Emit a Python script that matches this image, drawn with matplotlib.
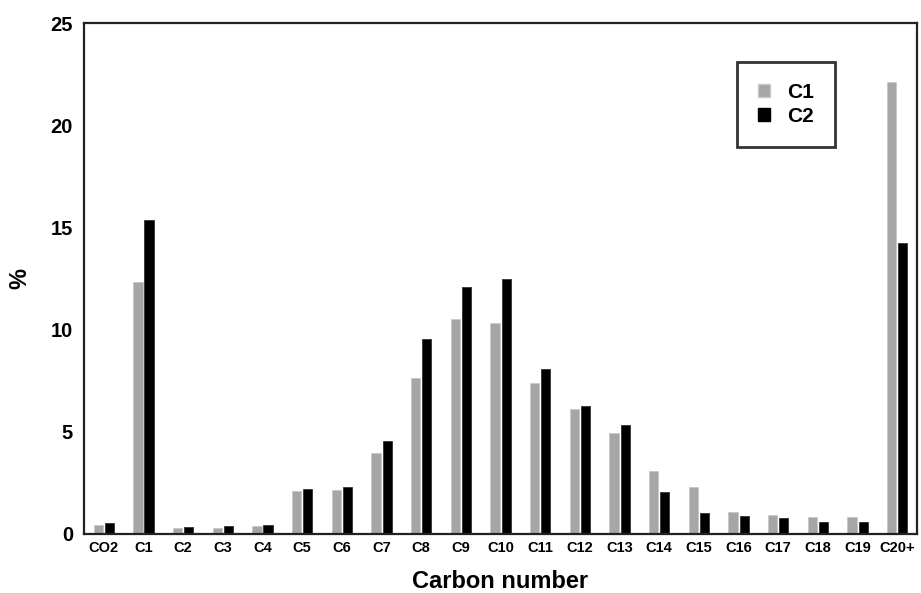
import numpy as np
import matplotlib.pyplot as plt
from matplotlib.patches import Patch

plt.rcParams["font.family"] = ["Liberation Sans", "DejaVu Sans"]
plt.rcParams["font.weight"] = "bold"

# carbon number distribution (%)
categories = ["CO2", "C1", "C2", "C3", "C4", "C5", "C6", "C7", "C8", "C9", "C10",
              "C11", "C12", "C13", "C14", "C15", "C16", "C17", "C18", "C19", "C20+"]
c1_values = [0.42, 12.34, 0.28, 0.28, 0.39, 2.10, 2.15, 3.95, 7.62, 10.50, 10.32,
             7.40, 6.10, 4.93, 3.10, 2.28, 1.09, 0.91, 0.82, 0.82, 22.13]
c2_values = [0.55, 15.35, 0.33, 0.38, 0.42, 2.19, 2.28, 4.55, 9.52, 12.10, 12.48,
             8.09, 6.28, 5.33, 2.07, 1.03, 0.90, 0.80, 0.60, 0.60, 14.22]
series_names = ["C1", "C2"]
yticks = [0, 5, 10, 15, 20, 25]

x = np.arange(len(categories))
w = 0.23
off = 0.14

fig = plt.figure(figsize=(9.21, 5.93), dpi=100)
ax = fig.add_axes([0.0912, 0.0995, 0.9045, 0.8617])

ax.bar(x - off, c1_values, w, color="#a6a6a6", edgecolor="#c8c8c8", linewidth=0.6)
ax.bar(x + off, c2_values, w, color="black", edgecolor="#333333", linewidth=0.6)

ax.set_xlim(-0.5, len(categories) - 0.5)
ax.set_ylim(0, 25)
ax.set_xticks(x)
ax.set_xticklabels(categories, fontsize=10.5, fontweight="bold")
ax.set_yticks(yticks)
ax.set_yticklabels([str(t) for t in yticks], fontsize=14.5, fontweight="bold")
ax.tick_params(axis="both", length=0)
ax.tick_params(axis="x", pad=5)
ax.tick_params(axis="y", pad=8)

for s in ax.spines.values():
    s.set_linewidth(1.6)
    s.set_color("#222222")

ax.set_xlabel("Carbon number", fontsize=17, fontweight="bold", labelpad=11)
ax.set_ylabel("%", fontsize=17, fontweight="bold", labelpad=14)

handles = [Patch(facecolor="#a6a6a6", edgecolor="#c8c8c8"),
           Patch(facecolor="black", edgecolor="black")]
leg = ax.legend(handles, series_names, loc="upper left", bbox_to_anchor=(0.784, 0.924),
                prop={"weight": "bold", "size": 15}, frameon=True,
                fancybox=False, handlelength=0.6, handleheight=0.6, handletextpad=0.8,
                borderpad=1.0, labelspacing=0.25, borderaxespad=0)
leg.get_frame().set_edgecolor("black")
leg.get_frame().set_linewidth(2)

fig.canvas.draw()
# stretch the legend frame to the right like the reference box
fr = leg.get_frame()
fr.set_width(fr.get_width() + 22)

fig.savefig("out.png", dpi=100)
